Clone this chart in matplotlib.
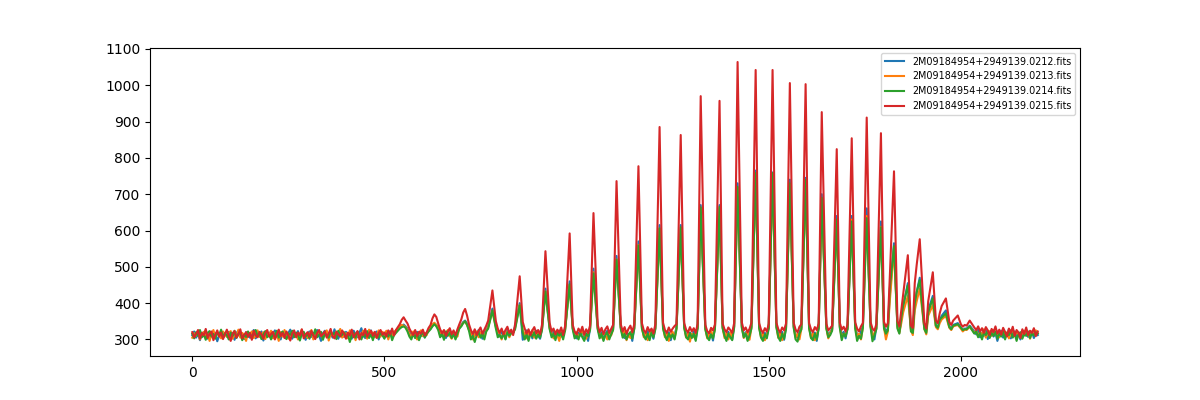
import numpy as np
import matplotlib
matplotlib.use("Agg")
import matplotlib.pyplot as plt

labels = ["2M09184954+2949139.0212.fits", "2M09184954+2949139.0213.fits",
          "2M09184954+2949139.0214.fits", "2M09184954+2949139.0215.fits"]

# readings on a 5-pixel grid: one row per 100 pixels (x = 100*r + 5*k), last row is x=2200
grid_x = np.arange(0, 2201, 5)

blue_rows = [
    [312, 322, 305, 316, 298, 319, 309, 325, 302, 314, 320, 307, 317, 295, 311, 323, 304, 316, 310, 321],
    [306, 315, 299, 318, 324, 308, 313, 301, 320, 311, 305, 317, 326, 303, 314, 309, 322, 297, 316, 310],
    [319, 304, 313, 325, 308, 316, 300, 321, 311, 306, 318, 327, 302, 314, 309, 323, 305, 317, 312, 299],
    [315, 322, 307, 318, 303, 326, 311, 296, 317, 324, 308, 313, 320, 305, 328, 310, 302, 319, 314, 307],
    [321, 309, 316, 302, 324, 313, 306, 319, 331, 310, 304, 318, 312, 325, 307, 316, 322, 300, 314, 319],
    [306, 317, 311, 323, 304, 318, 322, 328, 334, 338, 341, 336, 330, 320, 310, 318, 305, 321, 313, 309],
    [322, 306, 316, 325, 330, 338, 344, 340, 332, 318, 309, 320, 304, 316, 327, 311, 319, 306, 322, 331],
    [340, 348, 352, 344, 330, 314, 305, 320, 311, 326, 316, 302, 319, 327, 336, 318, 318, 318, 338, 316],
    [308, 323, 312, 302, 326, 318, 318, 318, 336, 320, 307, 318, 299, 314, 325, 309, 319, 303, 316, 324],
    [310, 302, 330, 318, 318, 318, 334, 312, 321, 305, 316, 324, 308, 318, 328, 318, 318, 318, 332, 309],
    [303, 318, 311, 325, 305, 317, 296, 330, 318, 318, 318, 333, 310, 320, 301, 316, 324, 307, 318, 331],
    [318, 318, 318, 334, 311, 304, 322, 308, 319, 296, 332, 318, 318, 318, 336, 314, 305, 323, 310, 317],
    [302, 334, 318, 318, 318, 336, 315, 306, 320, 298, 317, 310, 334, 318, 318, 318, 337, 312, 303, 319],
    [309, 322, 300, 335, 318, 318, 318, 333, 311, 304, 318, 297, 333, 318, 318, 318, 336, 313, 305, 321],
    [312, 300, 337, 318, 318, 318, 338, 310, 320, 303, 316, 336, 318, 318, 318, 337, 311, 302, 318, 309],
    [335, 318, 318, 318, 338, 313, 304, 321, 299, 334, 318, 318, 318, 337, 312, 305, 320, 333, 318, 318],
    [318, 336, 311, 303, 319, 296, 335, 318, 318, 318, 334, 309, 320, 329, 318, 318, 318, 337, 312, 321],
    [303, 332, 318, 318, 318, 338, 312, 305, 322, 336, 318, 318, 318, 339, 314, 300, 333, 318, 318, 318],
    [336, 322, 330, 420, 318, 318, 318, 338, 322, 355, 390, 318, 318, 318, 330, 324, 395, 430, 318, 318],
    [318, 335, 322, 380, 318, 318, 318, 338, 332, 352, 365, 318, 318, 318, 336, 330, 340, 318, 318, 318],
    [333, 325, 330, 330, 318, 318, 318, 322, 314, 327, 306, 319, 310, 325, 301, 316, 322, 308, 318, 296],
    [314, 324, 305, 319, 312, 328, 303, 317, 322, 309, 315, 300, 320, 311, 326, 307, 316, 321, 304, 318],
    [312],
]

orange_rows = [
    [305, 317, 311, 324, 300, 315, 321, 308, 318, 296, 313, 326, 306, 319, 310, 303, 322, 314, 307, 318],
    [323, 302, 314, 310, 327, 305, 318, 312, 296, 319, 315, 322, 304, 310, 325, 307, 313, 320, 301, 316],
    [311, 324, 303, 317, 313, 296, 320, 308, 326, 312, 302, 316, 321, 307, 318, 300, 314, 327, 309, 315],
    [304, 313, 326, 300, 315, 309, 320, 312, 303, 318, 325, 297, 314, 311, 307, 322, 316, 329, 305, 312],
    [317, 303, 325, 310, 315, 298, 320, 311, 307, 324, 316, 302, 327, 313, 319, 306, 311, 325, 308, 321],
    [312, 324, 300, 316, 310, 321, 325, 330, 336, 340, 338, 334, 326, 316, 306, 322, 312, 300, 318, 325],
    [309, 318, 312, 328, 334, 342, 346, 340, 330, 312, 322, 305, 318, 326, 310, 302, 320, 314, 308, 334],
    [338, 346, 349, 340, 326, 318, 300, 313, 322, 306, 320, 312, 308, 324, 334, 318, 318, 318, 334, 322],
    [316, 300, 320, 314, 322, 306, 318, 318, 332, 318, 318, 318, 324, 316, 303, 321, 312, 326, 305, 314],
    [321, 311, 328, 318, 318, 318, 330, 317, 303, 322, 312, 296, 320, 314, 326, 318, 318, 318, 330, 315],
    [320, 306, 316, 323, 312, 302, 318, 327, 318, 318, 318, 330, 314, 305, 320, 313, 300, 319, 311, 328],
    [318, 318, 318, 332, 315, 322, 298, 313, 304, 318, 330, 318, 318, 318, 333, 306, 318, 298, 315, 324],
    [313, 331, 318, 318, 318, 333, 306, 318, 296, 313, 321, 303, 331, 318, 318, 318, 335, 305, 316, 294],
    [316, 306, 318, 332, 318, 318, 318, 330, 303, 316, 324, 308, 330, 318, 318, 318, 333, 304, 318, 300],
    [318, 308, 335, 318, 318, 318, 335, 304, 316, 322, 299, 333, 318, 318, 318, 334, 306, 316, 298, 313],
    [332, 318, 318, 318, 335, 304, 318, 298, 313, 331, 318, 318, 318, 335, 304, 316, 300, 330, 318, 318],
    [318, 333, 305, 316, 298, 314, 332, 318, 318, 318, 332, 303, 317, 327, 318, 318, 318, 334, 305, 316],
    [312, 330, 318, 318, 318, 335, 306, 316, 300, 333, 318, 318, 318, 336, 307, 318, 330, 318, 318, 318],
    [333, 300, 322, 405, 318, 318, 318, 334, 318, 345, 375, 318, 318, 318, 326, 312, 380, 405, 318, 318],
    [318, 330, 314, 365, 318, 318, 318, 334, 328, 345, 355, 318, 318, 318, 332, 326, 336, 318, 318, 318],
    [330, 322, 327, 326, 318, 318, 318, 318, 324, 309, 320, 313, 328, 305, 317, 323, 310, 326, 314, 320],
    [306, 318, 325, 312, 320, 303, 316, 327, 310, 321, 314, 306, 319, 324, 311, 317, 302, 322, 313, 325],
    [318],
]

green_rows = [
    [316, 303, 320, 310, 326, 306, 314, 299, 318, 323, 308, 315, 302, 320, 311, 327, 305, 317, 312, 300],
    [319, 310, 324, 304, 315, 320, 298, 313, 307, 322, 312, 303, 318, 326, 309, 316, 301, 314, 323, 306],
    [313, 300, 318, 310, 324, 305, 316, 322, 309, 301, 317, 313, 324, 306, 319, 312, 297, 315, 321, 308],
    [316, 302, 319, 311, 328, 306, 313, 321, 299, 317, 310, 305, 322, 314, 318, 301, 324, 309, 313, 320],
    [306, 314, 293, 311, 318, 305, 322, 312, 300, 316, 308, 323, 304, 314, 298, 317, 310, 305, 320, 311],
    [302, 316, 308, 320, 298, 312, 318, 324, 330, 334, 336, 332, 322, 308, 300, 316, 304, 318, 298, 312],
    [320, 305, 316, 322, 328, 336, 342, 336, 326, 306, 316, 299, 322, 310, 318, 304, 314, 300, 316, 330],
    [336, 345, 350, 340, 324, 300, 310, 293, 312, 320, 305, 316, 300, 322, 330, 318, 318, 318, 330, 306],
    [312, 303, 318, 300, 320, 310, 318, 318, 328, 318, 318, 318, 318, 300, 314, 296, 316, 308, 320, 302],
    [314, 305, 326, 318, 318, 318, 328, 306, 316, 298, 319, 310, 318, 300, 324, 318, 318, 318, 328, 303],
    [312, 300, 318, 306, 296, 316, 309, 326, 318, 318, 318, 328, 303, 316, 296, 312, 320, 300, 314, 326],
    [318, 318, 318, 329, 305, 316, 300, 314, 320, 303, 328, 318, 318, 318, 330, 310, 300, 316, 298, 320],
    [306, 328, 318, 318, 318, 330, 310, 298, 316, 305, 314, 300, 328, 318, 318, 318, 332, 307, 300, 318],
    [304, 316, 296, 330, 318, 318, 318, 328, 306, 298, 314, 303, 328, 318, 318, 318, 331, 310, 296, 316],
    [306, 298, 332, 318, 318, 318, 332, 306, 316, 296, 310, 330, 318, 318, 318, 332, 305, 296, 314, 303],
    [330, 318, 318, 318, 333, 306, 296, 316, 302, 329, 318, 318, 318, 332, 300, 294, 316, 328, 318, 318],
    [318, 331, 304, 298, 316, 300, 330, 318, 318, 318, 330, 306, 312, 324, 318, 318, 318, 332, 298, 316],
    [308, 328, 318, 318, 318, 330, 296, 310, 302, 332, 318, 318, 318, 334, 295, 312, 328, 318, 318, 318],
    [330, 316, 325, 440, 318, 318, 318, 330, 316, 360, 395, 318, 318, 318, 322, 318, 400, 430, 318, 318],
    [318, 328, 318, 375, 318, 318, 318, 338, 332, 355, 360, 318, 318, 318, 334, 328, 338, 318, 318, 318],
    [332, 326, 328, 328, 318, 318, 318, 316, 322, 306, 318, 300, 320, 312, 324, 304, 318, 310, 322, 302],
    [316, 308, 322, 300, 318, 312, 325, 305, 316, 296, 314, 320, 302, 316, 310, 322, 304, 318, 311, 320],
    [316],
]

red_rows = [
    [320, 306, 315, 326, 302, 318, 311, 329, 304, 316, 322, 298, 313, 325, 308, 319, 301, 314, 327, 309],
    [296, 317, 323, 305, 314, 328, 303, 312, 320, 307, 318, 299, 324, 311, 306, 321, 314, 302, 317, 326],
    [308, 315, 321, 300, 313, 327, 309, 318, 304, 322, 312, 297, 316, 325, 306, 319, 311, 328, 303, 314],
    [320, 307, 324, 312, 301, 318, 326, 309, 315, 322, 305, 317, 329, 310, 303, 321, 314, 308, 325, 316],
    [302, 319, 311, 327, 306, 315, 323, 300, 318, 312, 329, 307, 316, 324, 310, 321, 304, 318, 326, 313],
    [319, 308, 325, 314, 330, 311, 326, 334, 342, 354, 361, 352, 344, 330, 320, 312, 326, 309, 321, 316],
    [327, 311, 320, 332, 340, 358, 369, 362, 344, 328, 317, 326, 310, 322, 331, 314, 325, 312, 328, 342],
    [355, 374, 384, 366, 342, 326, 315, 328, 312, 324, 333, 316, 327, 338, 352, 325, 325, 325, 350, 330],
    [318, 330, 314, 326, 335, 318, 327, 312, 342, 325, 325, 325, 348, 330, 316, 328, 312, 325, 334, 317],
    [326, 314, 340, 325, 325, 325, 345, 322, 330, 314, 327, 318, 333, 312, 336, 325, 325, 325, 340, 322],
    [314, 330, 320, 335, 313, 328, 318, 338, 325, 325, 325, 340, 320, 332, 315, 328, 336, 318, 329, 340],
    [325, 325, 325, 342, 322, 334, 316, 329, 338, 320, 341, 325, 325, 325, 345, 325, 318, 334, 322, 330],
    [316, 342, 325, 325, 325, 346, 326, 318, 333, 321, 330, 337, 342, 325, 325, 325, 345, 327, 319, 334],
    [322, 331, 318, 343, 325, 325, 325, 340, 323, 317, 332, 325, 341, 325, 325, 325, 344, 328, 320, 333],
    [326, 318, 345, 325, 325, 325, 347, 325, 333, 320, 329, 346, 325, 325, 325, 345, 327, 318, 331, 322],
    [343, 325, 325, 325, 346, 328, 319, 333, 325, 344, 325, 325, 325, 346, 327, 320, 335, 342, 325, 325],
    [325, 345, 328, 320, 334, 326, 344, 325, 325, 325, 343, 325, 331, 338, 325, 325, 325, 346, 327, 335],
    [322, 341, 325, 325, 325, 347, 330, 322, 336, 345, 325, 325, 325, 348, 330, 324, 342, 325, 325, 325],
    [348, 335, 345, 470, 325, 325, 325, 350, 336, 380, 425, 325, 325, 325, 338, 332, 455, 505, 325, 325],
    [325, 345, 330, 405, 325, 325, 325, 352, 345, 372, 392, 325, 325, 325, 348, 340, 352, 325, 325, 325],
    [342, 335, 340, 338, 325, 325, 325, 333, 326, 336, 322, 331, 318, 334, 325, 312, 329, 320, 336, 316],
    [327, 313, 332, 321, 308, 330, 318, 335, 310, 326, 319, 304, 328, 315, 333, 312, 324, 318, 331, 309],
    [322],
]

# narrow emission peaks: positions and peak heights per series
peak_x = [781, 852, 919, 982, 1044, 1104, 1161, 1216, 1271, 1323, 1372, 1419, 1466, 1510,
          1555, 1596, 1638, 1677, 1716, 1755, 1792, 1826, 1862, 1893, 1927, 1961, 1992, 2023]
blue_peaks = [385, 400, 440, 460, 495, 530, 570, 615, 615, 670, 670, 730, 765, 760,
              740, 745, 700, 640, 640, 661, 625, 565, 455, 470, 420, 380, 345, 338]
orange_peaks = [378, 395, 432, 450, 485, 520, 560, 605, 605, 660, 660, 715, 750, 745,
                725, 730, 680, 625, 630, 640, 610, 550, 420, 440, 395, 365, 340, 335]
green_peaks = [380, 394, 432, 452, 482, 520, 559, 606, 609, 664, 665, 720, 758, 758,
               730, 739, 690, 630, 625, 634, 609, 557, 449, 463, 413, 372, 342, 336]
red_peaks = [435, 474, 543, 592, 648, 736, 777, 885, 863, 970, 957, 1064, 1042, 1042,
             1006, 1003, 926, 824, 854, 911, 868, 763, 532, 576, 485, 413, 366, 352]

series = [(blue_rows, blue_peaks), (orange_rows, orange_peaks),
          (green_rows, green_peaks), (red_rows, red_peaks)]


def flatten(rows, name):
    bad = [i for i, r in enumerate(rows[:-1]) if len(r) != 20]
    if bad:
        raise ValueError(f"{name}: bad rows {bad} {[len(rows[i]) for i in bad]}")
    return [v for r in rows for v in r]


def build(rows, peaks, name):
    base = flatten(rows, name)
    gx = np.asarray(grid_x, dtype=float)
    gy = np.asarray(base, dtype=float)
    px = np.asarray(peak_x, dtype=float)
    keep = np.min(np.abs(gx[:, None] - px[None, :]), axis=1) >= 8
    xs = np.concatenate([gx[keep], px])
    ys = np.concatenate([gy[keep], np.asarray(peaks, dtype=float)])
    order = np.argsort(xs, kind="stable")
    return xs[order], ys[order]


fig, ax = plt.subplots(figsize=(12, 4), dpi=100)
for (rows, peaks), lab in zip(series, labels):
    xs, ys = build(rows, peaks, lab)
    ax.plot(xs, ys, label=lab)

ax.legend(loc="upper right", fontsize="x-small")
fig.savefig("out.png", dpi=100)
